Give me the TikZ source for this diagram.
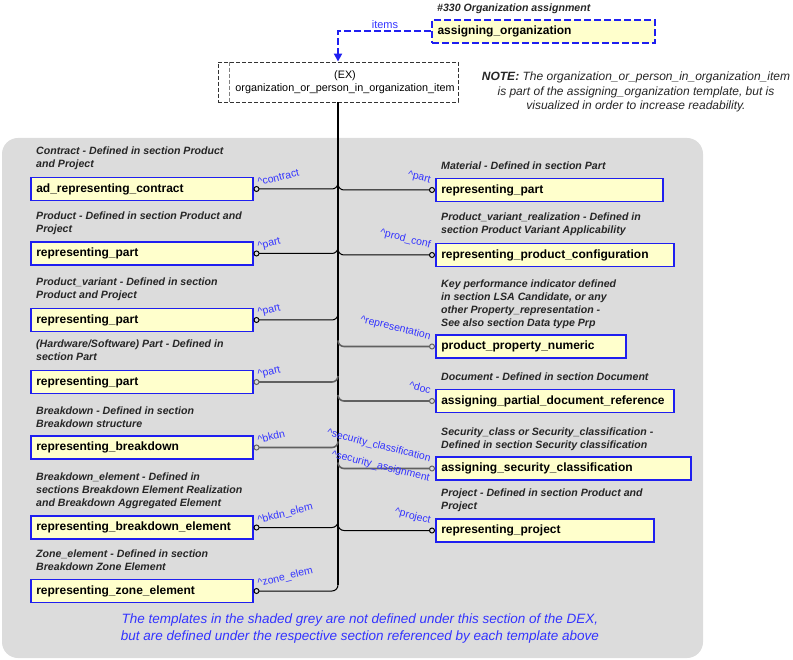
\documentclass[tikz,border=0pt]{standalone}
\usepackage{fontspec}
\setmainfont{Liberation Sans}
\usetikzlibrary{arrows.meta,calc}
\definecolor{bgGray}{HTML}{DCDCDC}
\definecolor{boxYel}{HTML}{FFFFCC}
\definecolor{lblBlue}{HTML}{3333FF}
\definecolor{brdBlue}{HTML}{1F1FF0}
\definecolor{connGray}{HTML}{606060}
\tikzset{oc/.tip={Circle[open,length=6pt,width=6pt,line width=1pt]}}
\begin{document}
\begin{tikzpicture}[x=1pt,y=-1pt,
  tmpl/.style={draw=brdBlue, line width=1.5pt, fill=boxYel,
    font=\fontsize{12}{14}\selectfont\bfseries, minimum height=23pt,
    inner xsep=5.5pt, inner ysep=0pt, anchor=west, align=left},
  ttl/.style={anchor=north west, inner sep=0pt, align=left,
    font=\fontsize{10.6}{13}\selectfont\bfseries\itshape, text=black!85},
  rolel/.style={anchor=base west, rotate=14, inner sep=0pt, text=lblBlue,
    font=\fontsize{10.5}{12}\selectfont},
  roler/.style={anchor=base east, rotate=-14, inner sep=0pt, text=lblBlue,
    font=\fontsize{10.5}{12}\selectfont},
  conn/.style={line width=1pt, black, rounded corners=6pt},
  conng/.style={line width=1.6pt, connGray, rounded corners=6pt},
  trunk/.style={line width=1.6pt, black},
]
\useasboundingbox (0,0) rectangle (793,660);
\fill[bgGray, rounded corners=16pt] (2,138) rectangle (703,658);

% top part
\node[ttl] (aotitle) at (437,4) {\#330 Organization assignment};
\node[tmpl, draw=brdBlue, line width=2pt, dash pattern=on 7pt off 3pt, text width=212pt] (AO) at (431,31.5) {assigning\_organization};
\node[draw=black!80, dash pattern=on 4pt off 2pt, line width=0.9pt, fill=white, minimum width=240pt, minimum height=40pt, inner sep=0pt, align=center,
  font=\fontsize{10.8}{13.5}\selectfont] (EX) at (338,82) {\hspace*{14pt}(EX)\\\hspace*{14pt}organization\_or\_person\_in\_organization\_item};
\draw[gray, dash pattern=on 4pt off 2pt, line width=0.9pt] ($(EX.north west)+(12,0)$) -- ($(EX.south west)+(12,0)$);
\draw[brdBlue, line width=2pt, dash pattern=on 7pt off 3pt, -{Triangle[length=8pt,width=8pt]}] (AO.west) -| (EX.north);
\node[text=lblBlue, font=\fontsize{11}{13}\selectfont, inner sep=0pt] (items) at (385,25) {items};
\node[align=center, inner sep=0pt, font=\fontsize{12}{14.5}\selectfont\itshape, text=black!85] (note) at (636,92)
  {\textbf{NOTE:} The organization\_or\_person\_in\_organization\_item\\is part of the assigning\_organization template, but is\\visualized in order to increase readability.};

% left column
\node[ttl] (t1) at (36,147) {Contract - Defined in section Product\\and Project};
\node[tmpl, text width=211pt] (L1) at (30,189) {ad\_representing\_contract};
\node[ttl] (t2) at (36,212) {Product - Defined in section Product and\\Project};
\node[tmpl, text width=211pt] (L2) at (30,253.5) {representing\_part};
\node[ttl] (t3) at (36,278) {Product\_variant - Defined in section\\Product and Project};
\node[tmpl, text width=211pt] (L3) at (30,320) {representing\_part};
\node[ttl] (t4) at (36,340) {(Hardware/Software) Part - Defined in\\section Part};
\node[tmpl, text width=211pt] (L4) at (30,382) {representing\_part};
\node[ttl] (t5) at (36,407) {Breakdown - Defined in section\\Breakdown structure};
\node[tmpl, text width=211pt] (L5) at (30,447.5) {representing\_breakdown};
\node[ttl] (t6) at (36,473) {Breakdown\_element - Defined in\\sections Breakdown Element Realization\\and Breakdown Aggregated Element};
\node[tmpl, text width=211pt] (L6) at (30,527.5) {representing\_breakdown\_element};
\node[ttl] (t7) at (36,550) {Zone\_element - Defined in section\\Breakdown Zone Element};
\node[tmpl, text width=211pt] (L7) at (30,591) {representing\_zone\_element};

% right column
\node[ttl] (s1) at (441,162) {Material - Defined in section Part};
\node[tmpl, text width=216pt] (R1) at (435,190) {representing\_part};
\node[ttl] (s2) at (441,213) {Product\_variant\_realization - Defined in\\section Product Variant Applicability};
\node[tmpl, text width=227pt] (R2) at (435,255) {representing\_product\_configuration};
\node[ttl] (s3) at (441,280) {Key performance indicator defined\\in section LSA Candidate, or any\\other Property\_representation -\\See also section Data type Prp};
\node[tmpl, text width=179pt] (R3) at (435,346.5) {product\_property\_numeric};
\node[ttl] (s4) at (441,373) {Document - Defined in section Document};
\node[tmpl, text width=227pt] (R4) at (435,401) {assigning\_partial\_document\_reference};
\node[ttl] (s5) at (441,428) {Security\_class or Security\_classification -\\Defined in section Security classification};
\node[tmpl, text width=244pt] (R5) at (435,468.5) {assigning\_security\_classification};
\node[ttl] (s6) at (441,489) {Project - Defined in section Product and\\Project};
\node[tmpl, text width=207pt] (R6) at (435,530.5) {representing\_project};

% trunk
\coordinate (tEnd) at ($(EX.south |- L7.east)+(0,-6)$);
\draw[trunk] (EX.south) -- (tEnd);

% left branches
\draw[conn, oc-] (L1.east) -| ($(EX.south |- L1.east)+(0,-6)$);
\draw[conn, oc-] (L2.east) -| ($(EX.south |- L2.east)+(0,-6)$);
\draw[conn, oc-] (L3.east) -| ($(EX.south |- L3.east)+(0,-6)$);
\draw[conng, oc-] (L4.east) -| ($(EX.south |- L4.east)+(0,-6)$);
\draw[conng, oc-] (L5.east) -| ($(EX.south |- L5.east)+(0,-6)$);
\draw[conn, oc-] (L6.east) -| ($(EX.south |- L6.east)+(0,-6)$);
\draw[conn, oc-] (L7.east) -| (tEnd);

% right branches
\draw[conn, -oc] ($(EX.south |- R1.west)+(0,-6)$) |- (R1.west);
\draw[conn, -oc] ($(EX.south |- R2.west)+(0,-6)$) |- (R2.west);
\draw[conng, -oc] ($(EX.south |- R3.west)+(0,-6)$) |- (R3.west);
\draw[conng, -oc] ($(EX.south |- R4.west)+(0,-6)$) |- (R4.west);
\draw[conng, -oc] ($(EX.south |- R5.west)+(0,-6)$) |- (R5.west);
\draw[conn, -oc] ($(EX.south |- R6.west)+(0,-6)$) |- (R6.west);

% role labels
\node[rolel] (r1) at ($(L1.east)+(5,-3)$) {\^{}contract};
\node[rolel] (r2) at ($(L2.east)+(5,-4)$) {\^{}part};
\node[rolel] (r3) at ($(L3.east)+(5,-4)$) {\^{}part};
\node[rolel] (r4) at ($(L4.east)+(5,-4)$) {\^{}part};
\node[rolel] (r5) at ($(L5.east)+(5,-4)$) {\^{}bkdn};
\node[rolel] (r6) at ($(L6.east)+(5,-4)$) {\^{}bkdn\_elem};
\node[rolel] (r7) at ($(L7.east)+(5,-4)$) {\^{}zone\_elem};
\node[roler] (q1) at ($(R1.west)+(-5,-7)$) {\^{}part};
\node[roler] (q2) at ($(R2.west)+(-5,-7)$) {\^{}prod\_conf};
\node[roler] (q3) at ($(R3.west)+(-5,-7)$) {\^{}representation};
\node[roler] (q4) at ($(R4.west)+(-5,-7)$) {\^{}doc};
\node[roler] (q5) at ($(R5.west)+(-5,-7)$) {\^{}security\_classification};
\node[roler] (q5b) at ($(R5.west)+(-6,13)$) {\^{}security\_assignment};
\node[roler] (q6) at ($(R6.west)+(-5,-7)$) {\^{}project};

% footer
\node[align=center, inner sep=0pt, text=lblBlue, font=\fontsize{13.5}{17}\selectfont\itshape] (foot) at (360,628.5)
  {The templates in the shaded grey are not defined under this section of the DEX,\\but are defined under the respective section referenced by each template above};
\end{tikzpicture}
\end{document}
